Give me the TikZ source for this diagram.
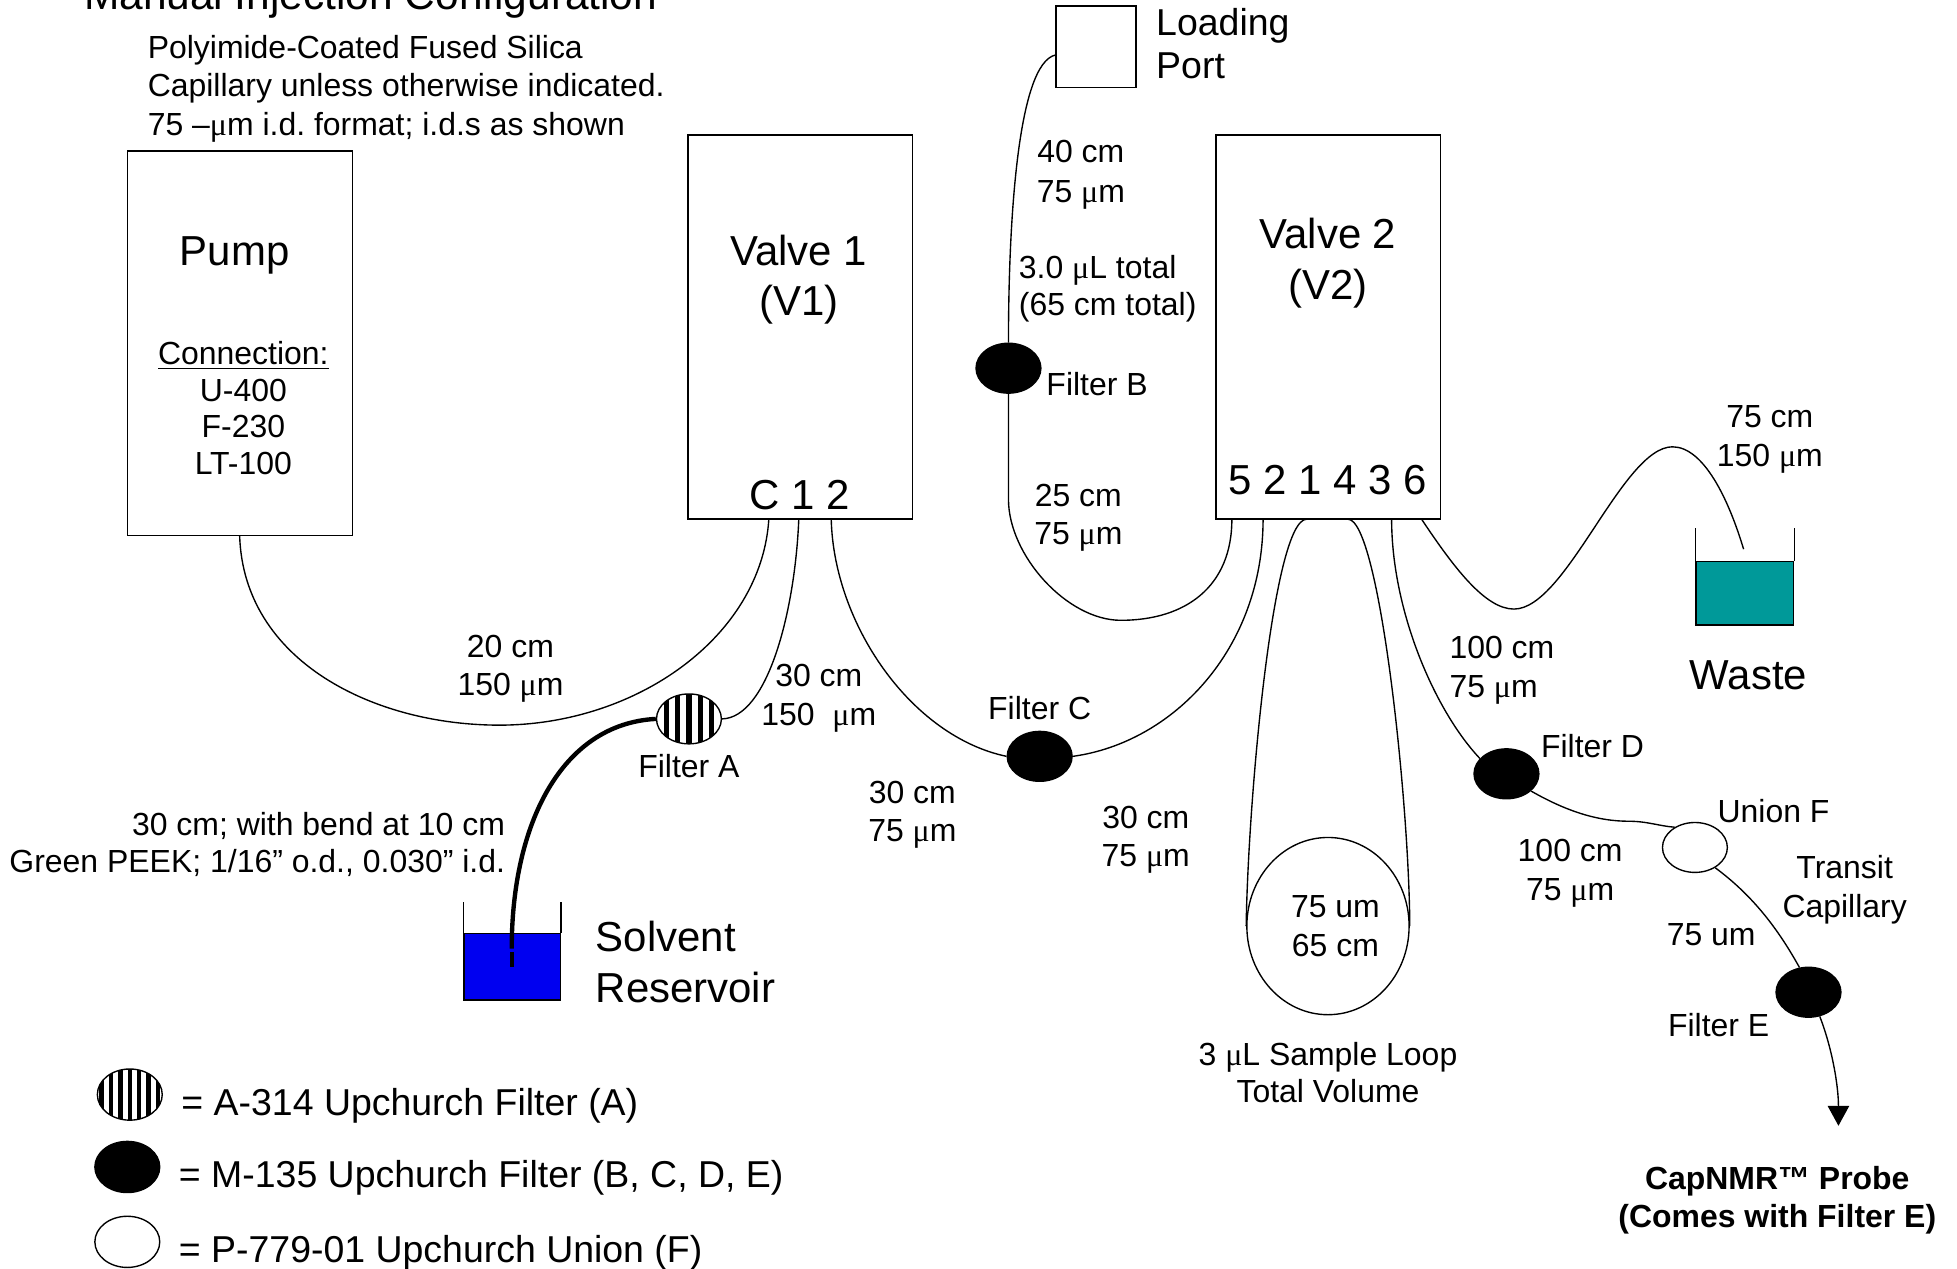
\documentclass[tikz,border=0pt]{standalone}
\usepackage{fontspec}
\setmainfont{Liberation Sans}
\newfontfamily\symf{Liberation Serif}
\usetikzlibrary{shapes.geometric,arrows.meta}
\AtBeginDocument{\frenchspacing}
\newcommand{\mcro}{{\symf μ}}
\definecolor{wastecol}{HTML}{009999}
\definecolor{solvcol}{HTML}{0000F0}
\tikzset{
  sm/.style={inner sep=0pt,align=center,font=\fontsize{12.8}{15.4}\selectfont},
  smtight/.style={inner sep=0pt,align=center,font=\fontsize{12.8}{14.6}\selectfont},
  smloose/.style={inner sep=0pt,align=center,font=\fontsize{12.8}{15.9}\selectfont},
  smbold/.style={inner sep=0pt,align=center,font=\bfseries\fontsize{12.8}{15.2}\selectfont},
  md/.style={inner sep=0pt,align=left,font=\fontsize{15}{17}\selectfont},
  lg/.style={inner sep=0pt,align=center,font=\fontsize{16.8}{20.3}\selectfont},
  boxnode/.style={draw,rectangle,line width=0.65pt,inner sep=0pt},
  tube/.style={line width=0.55pt},
  peek/.style={line width=1.75pt},
  filt/.style={draw,ellipse,inner sep=0pt,minimum width=26pt,minimum height=20pt,line width=0.55pt},
  blackfilt/.style={filt,fill=black},
  whitefilt/.style={filt,fill=white},
  stripefilt/.style={filt,fill=white,path picture={
    \foreach \i in {-18,-9,0,9,18}
      \draw[line width=2.1pt] ([xshift=\i*0.5pt]path picture bounding box.north) -- ([xshift=\i*0.5pt]path picture bounding box.south);
  }},
  keystripe/.style={filt,fill=white,minimum height=20.5pt,path picture={
    \foreach \i in {-22.5,-15,-7.5,0,7.5,15,22.5}
      \draw[line width=1.8pt] ([xshift=\i*0.5pt]path picture bounding box.north) -- ([xshift=\i*0.5pt]path picture bounding box.south);
  }},
  beaker/.style={line width=0.65pt},
}
\begin{document}
\begin{tikzpicture}[x=0.5pt,y=-0.5pt]
\useasboundingbox (0,0) rectangle (1568,1016);

% boxes
\node[boxnode,minimum width=90pt,minimum height=154pt] (pump) at (192.3,275) {};
\node[boxnode,minimum width=90pt,minimum height=154pt] (v1) at (641,262) {};
\node[boxnode,minimum width=90pt,minimum height=154pt] (v2) at (1064.3,262) {};
\node[boxnode,minimum width=32pt,minimum height=32.5pt] (lp) at (878,37.5) {};

% beakers
\node[boxnode,fill=solvcol,minimum width=38.5pt,minimum height=26.5pt] (solv) at (410.5,774.5) {};
\node[boxnode,fill=wastecol,minimum width=39pt,minimum height=25.5pt] (wast) at (1398,475.5) {};
\draw[beaker] (solv.north west) -- ++(0,-25) (solv.north east) -- ++(0,-25);
\draw[beaker] (wast.north west) -- ++(0,-26) (wast.north east) -- ++(0,-26);

% filters
\node[stripefilt] (fa) at (552,576) {};
\node[blackfilt] (fb) at (808,295) {};
\node[blackfilt] (fc) at (833,606) {};
\node[blackfilt] (fd) at (1207,620) {};
\node[blackfilt] (fe) at (1449,795) {};
\node[whitefilt] (uf) at (1358,679) {};
\node[draw,ellipse,inner sep=0pt,minimum width=65pt,minimum height=71pt,line width=0.55pt] (loop) at (1064,742) {};

% legend symbols
\node[keystripe] (la) at (104,877) {};
\node[blackfilt,minimum height=20.5pt] (lb) at (102,935) {};
\node[whitefilt,minimum height=20.5pt] (lc) at (102,995) {};

% ports
\coordinate (pumpout) at (192,429);
\coordinate (v1c) at (616,416);
\coordinate (v1a) at (640,416);
\coordinate (v1b) at (666,416);
\coordinate (v2five) at (987,416);
\coordinate (v2two) at (1012,416);
\coordinate (v2one) at (1047,416);
\coordinate (v2four) at (1080,416);
\coordinate (v2three) at (1115,416);
\coordinate (v2six) at (1139,416);
\coordinate (lpin) at (846,44);
\coordinate (solvin) at (410,760);
\coordinate (solvdip) at (410,763);
\coordinate (solvend) at (410,775);
\coordinate (wastin) at (1397,440);
\coordinate (probe) at (1473,902);

% tubes
\draw[tube] (pumpout) .. controls (195,530) and (300,581) .. (400,581) .. controls (510,581) and (610,510) .. (v1c);
\draw[tube] (fa.east) .. controls (615,575) and (637,490) .. (v1a);
\draw[peek] (fa.west) .. controls (450,580) and (410,660) .. (solvin);
\draw[line width=1.75pt] (solvdip) -- (solvend);
\draw[tube] (v1b) .. controls (668,500) and (730,590) .. (fc.west);
\draw[tube] (fc.east) .. controls (940,595) and (1012,520) .. (v2two);
\draw[tube] (lpin) .. controls (815,50) and (808,180) .. (fb.north);
\draw[tube] (fb.south) -- (808,400) .. controls (808,445) and (855,497) .. (898,497) .. controls (950,497) and (987,470) .. (v2five);
\draw[tube] (v2one) .. controls (1020,416) and (1000,640) .. (loop.west);
\draw[tube] (v2four) .. controls (1105,416) and (1129,640) .. (loop.east);
\draw[tube] (v2three) .. controls (1115,490) and (1150,570) .. (fd.150);
\draw[tube] (fd.-35) .. controls (1255,650) and (1280,658) .. (1305,658) .. controls (1320,658) and (1330,662) .. (uf.135);
\draw[tube] (uf.-45) .. controls (1405,718) and (1425,745) .. (fe.110);
\draw[tube,-{Triangle[length=8pt,width=8.6pt]}] (fe.-65) .. controls (1468,840) and (1473,870) .. (probe);
\draw[tube] (v2six) .. controls (1165,455) and (1190,488) .. (1213,488) .. controls (1255,488) and (1300,358) .. (1340,358) .. controls (1365,358) and (1385,400) .. (wastin);

% texts
\node[lg,anchor=center,font=\fontsize{17}{20}\selectfont] (title) at (297,-1) {Manual Injection Configuration};
\node[sm,align=left,anchor=west] (note) at (118,71) {Polyimide-Coated Fused Silica\\Capillary unless otherwise indicated.\\75 –\mcro m i.d. format; i.d.s as shown};
\node[lg] (tpump) at (188,205) {Pump};
\node[smtight] (tconn) at (195,327) {\underline{Connection:}\\U-400\\F-230\\LT-100};
\node[lg] (tv1) at (640,224) {Valve 1\\(V1)};
\node[lg] (tv1p) at (641,397) {C 1 2};
\node[lg] (tv2) at (1064,211) {Valve 2\\(V2)};
\node[lg] (tv2p) at (1064,385) {5 2 1 4 3 6};
\node[md,anchor=west] (tlp) at (926,35) {Loading\\Port};
\node[smloose] (l40) at (866,140) {40 cm\\75 \mcro m};
\node[smtight,align=left,anchor=west] (l3) at (816,231.5) {3.0 \mcro L total\\(65 cm total)};
\node[sm] (tfb) at (879,308) {Filter B};
\node[sm] (l25) at (864,415) {25 cm\\75 \mcro m};
\node[sm] (l75) at (1418,352) {75 cm\\150 \mcro m};
\node[lg] (twaste) at (1401,541) {Waste};
\node[sm,align=left,anchor=west] (l100a) at (1161,537) {100 cm\\75 \mcro m};
\node[sm] (tfd) at (1276,598) {Filter D};
\node[sm] (tuf) at (1421,650) {Union F};
\node[sm] (l100b) at (1258,699.5) {100 cm\\75 \mcro m};
\node[sm] (ltr) at (1478,713) {Transit\\Capillary};
\node[sm] (l75u) at (1371,749) {75 um};
\node[sm] (tfe) at (1377,821) {Filter E};
\node[smbold] (tprobe) at (1424,962) {CapNMR™ Probe\\(Comes with Filter E)};
\node[sm] (lloop) at (1070,742) {75 um\\65 cm};
\node[smtight] (lsamp) at (1064,859.5) {3 \mcro L Sample Loop\\Total Volume};
\node[sm] (l30c) at (918,673) {30 cm\\75 \mcro m};
\node[sm] (l30b) at (731,653) {30 cm\\75 \mcro m};
\node[sm] (tfc) at (833,567) {Filter C};
\node[smloose] (l30a) at (656,559.5) {30 cm\\150\ \ \mcro m};
\node[sm] (l20) at (409,536) {20 cm\\150 \mcro m};
\node[sm] (tfa) at (552,614) {Filter A};
\node[smtight,align=right,anchor=east] (lpeek) at (405,676.5) {30 cm; with bend at 10 cm\\Green PEEK; 1/16” o.d., 0.030” i.d.};
\node[lg,align=left,anchor=west] (tsolv) at (477,771) {Solvent\\Reservoir};
\node[md,anchor=west] (tla) at (145,886) {= A-314 Upchurch Filter (A)};
\node[md,anchor=west] (tlb) at (143,944) {= M-135 Upchurch Filter (B, C, D, E)};
\node[md,anchor=west] (tlc) at (143,1004) {= P-779-01 Upchurch Union (F)};
\end{tikzpicture}
\end{document}
